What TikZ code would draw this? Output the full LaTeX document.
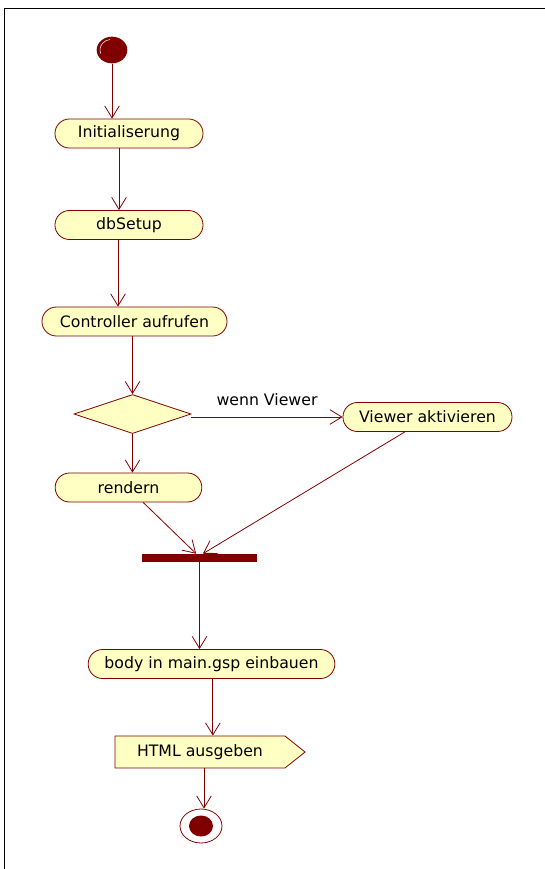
\documentclass[tikz,border=0pt]{standalone}
\usepackage{fontspec}
\setmainfont{DejaVu Sans}
\usepackage{tikz}
\usetikzlibrary{positioning,arrows.meta,shapes.geometric,shapes.symbols,shapes.misc,calc}
\definecolor{umlred} {RGB}{128,0,0}
\definecolor{umlfill}{RGB}{255,255,196}
\newcommand{\umlfont}{\fontsize{11.8}{14}\selectfont}

\begin{document}
\begin{tikzpicture}[
  x=0.75pt,y=-0.75pt,
  act/.style={rectangle,rounded corners=10.8pt,
              draw=umlred,fill=umlfill,
              minimum height=21.75pt,inner sep=2pt,
              font=\umlfont,line width=0.6pt},
  dec/.style={diamond,draw=umlred,fill=umlfill,
              minimum width=87.75pt,minimum height=29.25pt,
              inner sep=0pt,line width=0.6pt},
  sig/.style={signal,signal to=east,signal pointer angle=77,
              draw=umlred,fill=umlfill,
              minimum width=142.5pt,minimum height=24pt,
              inner sep=2pt,font=\umlfont,line width=0.6pt},
  bar/.style={rectangle,fill=umlred,minimum width=86pt,
              minimum height=6pt,inner sep=0pt},
  ini/.style={ellipse,fill=umlred,minimum width=23pt,
              minimum height=20pt,inner sep=0pt},
  fino/.style={ellipse,draw=umlred,fill=white,minimum width=31.5pt,
               minimum height=25.5pt,inner sep=0pt,line width=0.6pt},
  fini/.style={ellipse,fill=umlred,minimum width=18pt,
               minimum height=15.75pt,inner sep=0pt},
  lbl/.style={font=\umlfont,text=black,inner sep=3pt},
  arr/.style={-{Straight Barb[length=9pt,width=11pt]},line width=0.6pt,umlred},
]
\useasboundingbox (0,0) rectangle (545,869);
\draw[line width=0.75pt] (4,869) -- (4,8) -- (545,8);

\node[ini] (start) at (112,50) {};
\draw[white,line width=0.4pt] ([shift={(-8.46pt,-2.74pt)}]start.center)
  arc[start angle=200,end angle=100,x radius=9pt,y radius=8pt];
\node[act,minimum width=111pt] (init) at (129,133.5) {Initialiserung};
\node[act,minimum width=111pt] (db) at (129,225) {dbSetup};
\node[act,minimum width=138.75pt] (ctrl) at (134.5,321.5) {Controller aufrufen};
\node[dec] (dia) at (132.5,414) {};
\node[act,minimum width=126.75pt] (view) at (427.5,417) {Viewer aktivieren};
\node[act,minimum width=110pt] (rend) at (128.5,487.5) {rendern};
\node[bar] (join) at (199.5,558) {};
\node[act,minimum width=185pt] (body) at (211.5,664) {body in main.gsp einbauen};
\node[sig] (html) at (200,752) {HTML ausgeben};
\node[fino] (fin) at (201,826) {};
\node[fini] (finIn) at (fin.center) {};

\draw[arr] (start) -- (start |- init.north);
\draw[arr] ([xshift=-7.5pt]init.south) -- ([xshift=-7.5pt]db.north);
\draw[arr] ([xshift=-8.25pt]db.south) -- ([xshift=-8.25pt]db.south |- ctrl.north);
\draw[arr] (dia.north |- ctrl.south) -- (dia.north);
\draw[arr] (dia.south) -- (dia.south |- rend.north);
\draw[arr] (view.west -| dia.east) -- node[lbl,above=5pt] (lblView) {wenn Viewer} (view.west);
\draw[arr] ([xshift=11pt]rend.south) -- ([xshift=-2.5pt]join.north);
\draw[arr] ([xshift=-17pt]view.south) -- ([xshift=2.5pt]join.north);
\draw[arr] (join.south) -- (join.south |- body.north);
\draw[arr] ([xshift=1pt]body.south) -- ([xshift=1pt]body.south |- html.north);
\draw[arr] ([xshift=3pt]html.south) -- ([xshift=3pt]html.south |- fin.north);
\end{tikzpicture}
\end{document}
